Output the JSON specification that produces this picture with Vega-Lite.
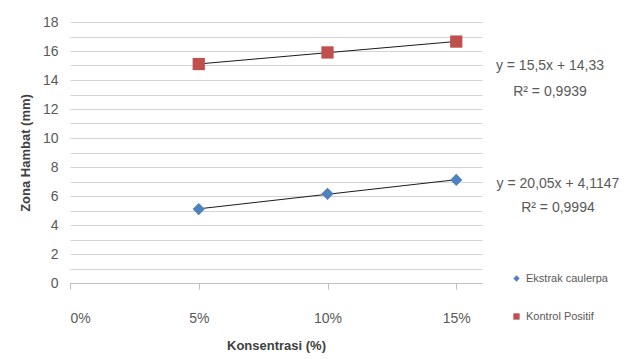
{
  "$schema": "https://vega.github.io/schema/vega-lite/v6.json",
  "autosize": {"type": "none"},
  "width": 412,
  "height": 261,
  "padding": {"left": 70, "top": 22, "right": 154, "bottom": 76},
  "background": "white",
  "config": {
    "view": {"stroke": null},
    "font": "Liberation Sans",
    "axis": {"labelFont": "Liberation Sans", "titleFont": "Liberation Sans"},
    "legend": {"labelFont": "Liberation Sans"}
  },
  "datasets": {
    "pts": [
      {"konsentrasi": 0.05, "zona": 5.1, "series": "Ekstrak caulerpa"},
      {"konsentrasi": 0.10, "zona": 6.15, "series": "Ekstrak caulerpa"},
      {"konsentrasi": 0.15, "zona": 7.11, "series": "Ekstrak caulerpa"},
      {"konsentrasi": 0.05, "zona": 15.1, "series": "Kontrol Positif"},
      {"konsentrasi": 0.10, "zona": 15.9, "series": "Kontrol Positif"},
      {"konsentrasi": 0.15, "zona": 16.65, "series": "Kontrol Positif"}
    ],
    "notes": [
      {"x": 0.1864, "y": 15.0, "label": "y = 15,5x + 14,33"},
      {"x": 0.1864, "y": 13.2, "label": "R² = 0,9939"},
      {"x": 0.1895, "y": 6.8, "label": "y = 20,05x + 4,1147"},
      {"x": 0.1895, "y": 5.2, "label": "R² = 0,9994"}
    ]
  },
  "layer": [
    {
      "data": {"name": "pts"},
      "transform": [
        {"regression": "zona", "on": "konsentrasi", "groupby": ["series"], "extent": [0.05, 0.15]}
      ],
      "mark": {"type": "line", "color": "#1a1a1a", "strokeWidth": 1},
      "encoding": {
        "x": {"field": "konsentrasi", "type": "quantitative"},
        "y": {"field": "zona", "type": "quantitative"},
        "detail": {"field": "series"}
      }
    },
    {
      "data": {"name": "pts"},
      "mark": {"type": "point", "filled": true, "opacity": 1, "size": 150},
      "encoding": {
        "x": {
          "field": "konsentrasi", "type": "quantitative",
          "scale": {"domain": [0, 0.16], "nice": false},
          "axis": {
            "values": [0, 0.05, 0.1, 0.15], "tickCount": 10, "format": ".0%", "grid": false,
            "title": "Konsentrasi (%)", "titleFontSize": 13, "titleFontWeight": "bold",
            "titleColor": "#404040", "titlePadding": 14,
            "labelFontSize": 14, "labelColor": "#595959", "labelPadding": 22,
            "tickColor": "#bfbfbf", "tickSize": 6, "domainColor": "#bfbfbf"
          }
        },
        "y": {
          "field": "zona", "type": "quantitative",
          "scale": {"domain": [0, 18], "nice": false},
          "axis": {
            "values": [0,0.5,1,1.5,2,2.5,3,3.5,4,4.5,5,5.5,6,6.5,7,7.5,8,8.5,9,9.5,10,10.5,11,11.5,12,12.5,13,13.5,14,14.5,15,15.5,16,16.5,17,17.5,18],
            "tickCount": 100,
            "format": "d",
            "labelExpr": "datum.value % 2 == 0 ? datum.label : ''",
            "labelOverlap": false,
            "ticks": false, "domain": false,
            "gridColor": "#d4d4d4", "gridWidth": 1,
            "title": "Zona Hambat (mm)", "titleFontSize": 13, "titleFontWeight": "bold",
            "titleColor": "#404040", "titlePadding": 10,
            "labelFontSize": 14, "labelColor": "#595959", "labelPadding": 12
          }
        },
        "color": {
          "field": "series", "type": "nominal",
          "scale": {"domain": ["Ekstrak caulerpa", "Kontrol Positif"], "range": ["#4f81bd", "#c0504d"]},
          "legend": {
            "title": null, "orient": "none", "legendX": 441, "legendY": 251,
            "padding": 0, "rowPadding": 26, "labelFontSize": 11, "labelColor": "#595959",
            "symbolSize": 40, "labelOffset": 4
          }
        },
        "shape": {
          "field": "series", "type": "nominal",
          "scale": {"domain": ["Ekstrak caulerpa", "Kontrol Positif"], "range": ["diamond", "square"]},
          "legend": null
        }
      }
    },
    {
      "data": {"name": "notes"},
      "mark": {"type": "text", "align": "center", "baseline": "middle", "fontSize": 14, "color": "#595959", "clip": false},
      "encoding": {
        "x": {"field": "x", "type": "quantitative"},
        "y": {"field": "y", "type": "quantitative"},
        "text": {"field": "label"}
      }
    }
  ]
}
